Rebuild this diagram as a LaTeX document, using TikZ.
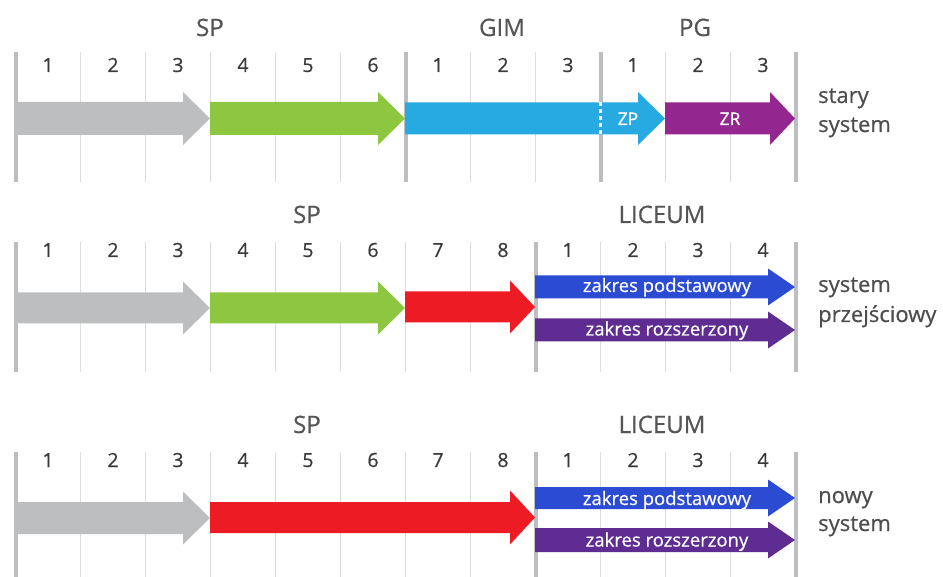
\documentclass[tikz,border=0pt]{standalone}
\usepackage{fontspec}
\setmainfont{Open Sans}
\newfontfamily\txtfont{Open Sans}[FakeBold=0.6]
\definecolor{headgray}{HTML}{555555}
\definecolor{numgray}{HTML}{3A3A3A}
\definecolor{sidegray}{HTML}{4D4D4D}
\definecolor{linegray}{HTML}{BCBEC0}
\definecolor{thingray}{HTML}{DDDDDD}
\definecolor{arrgray}{HTML}{BCBEC0}
\definecolor{arrgreen}{HTML}{8DC63F}
\definecolor{arrcyan}{HTML}{27AAE1}
\definecolor{arrplum}{HTML}{93278F}
\definecolor{arrred}{HTML}{ED1C24}
\definecolor{arrblue}{HTML}{2B4BD2}
\definecolor{arrviolet}{HTML}{5F2D91}
\newcommand\flowarrow[7]{%
  \fill[#7] (#1,{#3-#4}) -- ({#2-#6},{#3-#4}) -- ({#2-#6},{#3-#5}) -- (#2,#3)
    -- ({#2-#6},{#3+#5}) -- ({#2-#6},{#3+#4}) -- (#1,{#3+#4}) -- cycle;}
\tikzset{
  minorline/.style={draw=thingray, line width=1pt},
  majorline/.style={draw=linegray, line width=4pt},
  headtxt/.style={anchor=base, text=headgray, font=\txtfont\fontsize{24}{28}\selectfont, inner sep=0pt},
  numtxt/.style={anchor=base, text=numgray, font=\txtfont\fontsize{19.5}{22}\selectfont, inner sep=0pt},
  sidetxt/.style={anchor=base west, text=sidegray, font=\txtfont\fontsize{22}{26}\selectfont, inner sep=0pt},
  bandtxt/.style={anchor=base, text=white, font=\txtfont\fontsize{18.5}{22}\selectfont, inner sep=0pt},
  smalltxt/.style={anchor=base, text=white, font=\txtfont\fontsize{17.5}{20}\selectfont, inner sep=0pt},
}
\begin{document}
\begin{tikzpicture}[x=1pt,y=-1pt]
\useasboundingbox (0,0) rectangle (943,577);
% ---------- grid lines ----------
\foreach \k in {0,...,12} {
  \draw[minorline] ({15.5+65*\k},52) -- ({15.5+65*\k},182);
  \draw[minorline] ({15.5+65*\k},242) -- ({15.5+65*\k},372);
  \draw[minorline] ({15.5+65*\k},452) -- ({15.5+65*\k},577);
}
\foreach \xx in {15.5,405.5,600.5,795.5} \draw[majorline] (\xx,52) -- (\xx,182);
\foreach \xx in {15.5,535.5,795.5} {
  \draw[majorline] (\xx,242) -- (\xx,372);
  \draw[majorline] (\xx,452) -- (\xx,577);
}
% ---------- headings ----------
\node[headtxt] (sp1) at (210,36) {SP};
\node[headtxt] (gim1) at (502,36) {GIM};
\node[headtxt] (pg1) at (695,36) {PG};
\node[headtxt] (sp2) at (307,223) {SP};
\node[headtxt] (lic2) at (662,223) {LICEUM};
\node[headtxt] (sp3) at (307,433) {SP};
\node[headtxt] (lic3) at (662,433) {LICEUM};
% ---------- numbers ----------
\foreach \lab [count=\i] in {1,2,3,4,5,6,1,2,3,1,2,3}
  \node[numtxt] (na\i) at ({15.5+65*(\i-0.5)},72) {\lab};
\foreach \lab [count=\i] in {1,2,3,4,5,6,7,8,1,2,3,4} {
  \node[numtxt] (nb\i) at ({15.5+65*(\i-0.5)},257) {\lab};
  \node[numtxt] (nc\i) at ({15.5+65*(\i-0.5)},467) {\lab};
}
% ---------- section 1 arrows ----------
\flowarrow{15.5}{210}{118.5}{16.5}{26.5}{27}{arrgray}
\flowarrow{210}{405}{118.5}{16.5}{26.5}{27}{arrgreen}
\flowarrow{405}{665}{118.5}{16}{26.5}{27}{arrcyan}
\flowarrow{665}{795}{118.5}{16}{26.5}{25}{arrplum}
\draw[white, line width=2.5pt, dash pattern=on 4pt off 3pt] (600.5,102.5) -- (600.5,134.5);
\node[smalltxt] (zp) at (628,125) {ZP};
\node[smalltxt] (zr) at (730,125) {ZR};
% ---------- section 2 arrows ----------
\flowarrow{15.5}{210}{308}{15.5}{26.5}{27}{arrgray}
\flowarrow{210}{405}{308}{15.5}{26.5}{27}{arrgreen}
\flowarrow{405}{535}{307}{15.5}{26.5}{25}{arrred}
\flowarrow{535}{795}{287}{11.5}{18.5}{27}{arrblue}
\flowarrow{535}{795}{330}{11.5}{18.5}{27}{arrviolet}
\node[bandtxt] (zp2) at (667,292) {zakres podstawowy};
\node[bandtxt] (zr2) at (667,335.5) {zakres rozszerzony};
% ---------- section 3 arrows ----------
\flowarrow{15.5}{210}{518}{16}{26.5}{27}{arrgray}
\flowarrow{210}{535}{517.5}{15.5}{27}{25}{arrred}
\flowarrow{535}{795}{498}{11}{18.5}{27}{arrblue}
\flowarrow{535}{795}{540}{12}{18.5}{27}{arrviolet}
\node[bandtxt] (zp3) at (667,505) {zakres podstawowy};
\node[bandtxt] (zr3) at (667,546.5) {zakres rozszerzony};
% ---------- side labels ----------
\node[sidetxt] (s1a) at (818,103) {stary};
\node[sidetxt] (s1b) at (818,132) {system};
\node[sidetxt] (s2a) at (818,292) {system};
\node[sidetxt] (s2b) at (818,322) {przejściowy};
\node[sidetxt] (s3a) at (818,503) {nowy};
\node[sidetxt] (s3b) at (818,531) {system};
\end{tikzpicture}
\end{document}
